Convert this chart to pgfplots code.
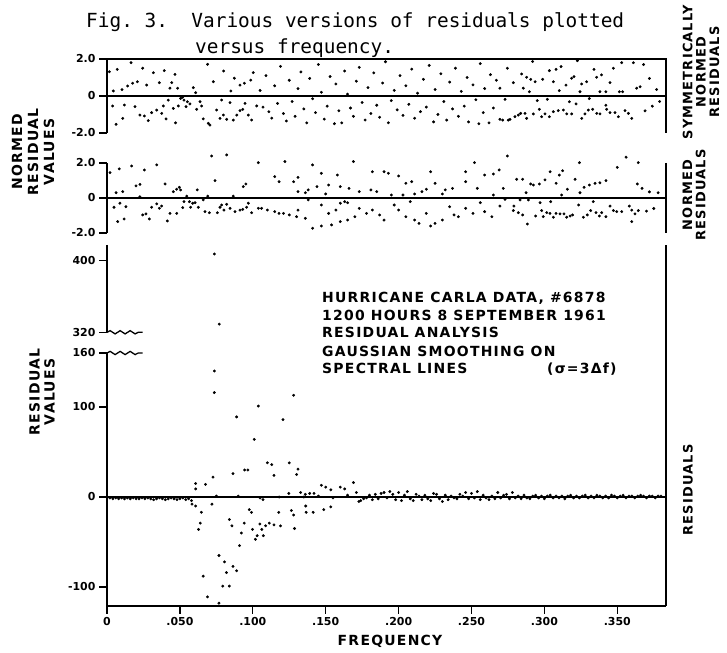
\documentclass[border=0pt]{standalone}
\usepackage{fontspec}
\setmainfont{DejaVu Sans}
\newfontfamily\monofont{DejaVu Sans Mono}
\newfontfamily\labfont[LetterSpace=9]{DejaVu Sans Bold}
\usepackage{pgfplots}
\pgfplotsset{compat=1.18}
\usetikzlibrary{decorations.pathmorphing}

\pgfplotstableread{
f v
0.0016 1.31
0.0039 -0.54
0.0043 0.27
0.0062 -1.53
0.0070 1.44
0.0103 0.34
0.0108 -1.21
0.0119 -0.49
0.0142 0.54
0.0165 1.80
0.0176 0.69
0.0192 -0.58
0.0208 0.77
0.0226 -1.03
0.0245 1.50
0.0256 -1.08
0.0272 0.59
0.0283 -1.33
0.0306 -0.90
0.0318 1.26
0.0341 -0.76
0.0359 0.72
0.0375 -0.94
0.0386 -0.54
0.0393 1.37
0.0405 -1.24
0.0420 -0.22
0.0432 0.42
0.0444 0.72
0.0455 -0.67
0.0466 1.17
0.0470 -1.45
0.0484 0.42
0.0489 -0.54
0.0505 -0.13
0.0519 -0.07
0.0528 -0.22
0.0542 -0.58
0.0551 -0.31
0.0569 -0.43
0.0592 0.45
0.0608 0.18
0.0615 -0.72
0.0638 -0.31
0.0649 -0.54
0.0660 -1.24
0.0690 1.71
0.0695 -1.48
0.0706 -1.57
0.0729 0.77
0.0752 -0.76
0.0775 -1.21
0.0786 -0.22
0.0798 -1.03
0.0800 1.35
0.0821 -1.26
0.0844 -0.36
0.0850 0.27
0.0866 -1.30
0.0873 0.96
0.0890 -1.03
0.0912 -0.79
0.0912 0.59
0.0931 -0.72
0.0942 0.69
0.0947 -0.40
0.0969 -1.03
0.0986 0.86
0.0992 -1.30
0.1003 1.26
0.1027 -0.54
0.1050 0.30
0.1070 -0.60
0.1090 1.10
0.1110 -0.85
0.1130 -1.20
0.1150 0.55
0.1170 -0.40
0.1190 1.60
0.1210 -0.95
0.1230 -1.35
0.1250 0.85
0.1270 -0.30
0.1290 -1.10
0.1310 0.40
0.1330 1.30
0.1350 -0.70
0.1370 -1.45
0.1390 0.95
0.1410 -0.15
0.1430 -0.90
0.1450 1.70
0.1470 0.20
0.1490 -1.25
0.1510 -0.55
0.1530 1.05
0.1560 -1.50
0.1570 0.65
0.1590 -0.80
0.1610 -1.45
0.1630 1.35
0.1650 0.10
0.1670 -0.65
0.1690 -1.10
0.1710 0.80
0.1730 1.55
0.1750 -0.35
0.1770 -1.30
0.1790 0.45
0.1810 -0.95
0.1830 1.25
0.1850 -0.50
0.1870 -1.15
0.1890 0.70
0.1910 1.85
0.1930 -1.45
0.1950 -0.25
0.1970 0.30
0.1990 -0.75
0.2010 1.10
0.2030 -1.05
0.2050 0.55
0.2070 -0.45
0.2090 1.45
0.2110 -1.20
0.2130 0.15
0.2150 -0.85
0.2170 0.90
0.2190 -0.60
0.2210 1.65
0.2240 -1.40
0.2250 0.35
0.2270 -1.00
0.2290 1.20
0.2310 -0.30
0.2330 -1.30
0.2350 0.75
0.2370 -0.70
0.2390 1.50
0.2410 -1.10
0.2430 0.25
0.2450 -0.55
0.2470 1.00
0.2480 -1.40
0.2510 0.60
0.2530 -0.20
0.2550 -1.50
0.2560 1.75
0.2580 -0.90
0.2590 0.40
0.2620 -1.45
0.2630 1.15
0.2650 -0.65
0.2670 0.85
0.2695 0.42
0.2695 -1.26
0.2714 -1.30
0.2730 -0.18
0.2746 1.50
0.2752 -1.30
0.2764 -1.26
0.2787 0.72
0.2798 -1.12
0.2821 -1.03
0.2837 -0.94
0.2844 1.19
0.2855 0.42
0.2867 -0.94
0.2878 1.01
0.2878 -1.21
0.2897 0.23
0.2906 0.90
0.2919 1.86
0.2924 -0.97
0.2936 0.77
0.2951 -0.25
0.2965 -0.72
0.2981 -1.12
0.2988 0.90
0.3004 -0.97
0.3020 -0.18
0.3034 1.37
0.3034 -1.12
0.3061 0.77
0.3061 -0.85
0.3080 1.44
0.3095 -0.79
0.3102 0.29
0.3114 1.59
0.3130 -0.76
0.3148 0.59
0.3153 -0.97
0.3171 -0.31
0.3187 0.96
0.3187 -0.97
0.3203 1.05
0.3217 -0.43
0.3226 1.91
0.3244 0.23
0.3255 0.65
0.3256 -1.21
0.3278 -0.97
0.3290 0.77
0.3301 -0.76
0.3308 -0.14
0.3331 -0.72
0.3340 1.44
0.3358 1.01
0.3359 -0.94
0.3381 0.23
0.3381 -0.97
0.3392 1.14
0.3422 0.23
0.3422 -0.50
0.3427 -0.72
0.3450 0.72
0.3450 -0.90
0.3473 1.50
0.3484 -0.90
0.3507 -1.12
0.3514 0.23
0.3530 1.80
0.3536 0.23
0.3553 -0.79
0.3576 -0.94
0.3599 -1.21
0.3610 1.80
0.3633 0.42
0.3656 0.50
0.3680 1.70
0.3690 -0.80
0.3720 0.95
0.3740 -0.55
0.3770 0.35
0.3790 -0.30
}\toptable

\pgfplotstableread{
f v
0.0021 1.45
0.0048 -0.53
0.0062 0.30
0.0073 -1.35
0.0084 1.66
0.0089 -0.30
0.0108 0.36
0.0117 -1.20
0.0130 -0.50
0.0169 1.83
0.0199 0.69
0.0226 0.78
0.0226 0.07
0.0245 -0.97
0.0256 1.60
0.0267 -0.91
0.0290 -1.20
0.0306 -0.53
0.0341 1.89
0.0341 -0.34
0.0359 -0.59
0.0375 -0.46
0.0398 0.80
0.0414 -1.31
0.0432 -0.88
0.0455 0.36
0.0478 0.50
0.0478 -0.88
0.0496 0.61
0.0505 0.46
0.0519 -0.55
0.0528 -0.21
0.0547 0.11
0.0565 -0.21
0.0574 -0.53
0.0588 -0.30
0.0604 -0.27
0.0619 0.46
0.0626 -0.53
0.0660 -0.11
0.0672 -0.78
0.0691 0.11
0.0702 -0.84
0.0718 2.40
0.0741 0.99
0.0757 -0.84
0.0775 -0.53
0.0786 -0.40
0.0802 -0.69
0.0821 2.46
0.0821 -0.36
0.0844 -0.59
0.0866 0.11
0.0878 -0.78
0.0912 -0.69
0.0931 -0.65
0.0935 0.65
0.0953 0.80
0.0958 -0.53
0.0969 -0.30
0.0992 -0.84
0.1038 2.02
0.1038 -0.59
0.1060 -0.59
0.1100 -0.69
0.1150 1.22
0.1150 -0.78
0.1180 0.93
0.1180 -0.88
0.1210 -0.88
0.1220 2.08
0.1250 -0.97
0.1280 0.93
0.1300 -1.07
0.1310 1.18
0.1310 0.36
0.1310 -0.69
0.1360 0.30
0.1360 -1.16
0.1380 0.46
0.1380 -0.11
0.1410 1.89
0.1410 -1.73
0.1440 0.65
0.1470 1.41
0.1470 -0.40
0.1470 -1.60
0.1500 0.23
0.1520 0.74
0.1520 -0.88
0.1540 -1.54
0.1570 -0.69
0.1580 1.31
0.1600 0.65
0.1600 -0.30
0.1600 -1.35
0.1630 -0.21
0.1650 -0.27
0.1650 -1.26
0.1660 0.55
0.1690 2.08
0.1700 -1.07
0.1730 0.36
0.1730 -0.59
0.1780 -0.88
0.1810 0.46
0.1820 1.50
0.1820 -0.69
0.1850 0.36
0.1870 -0.97
0.1900 1.50
0.1900 -1.26
0.1930 1.41
0.1950 0.17
0.1970 -0.40
0.2000 1.26
0.2000 -0.69
0.2030 0.17
0.2050 0.84
0.2050 -1.07
0.2080 -0.21
0.2090 0.93
0.2110 0.23
0.2110 -1.26
0.2140 -1.45
0.2160 0.36
0.2190 0.50
0.2190 -0.88
0.2220 1.50
0.2220 -1.60
0.2250 0.84
0.2250 -1.45
0.2300 0.23
0.2300 -1.26
0.2320 0.46
0.2350 -0.50
0.2370 0.55
0.2380 -0.97
0.2410 -1.07
0.2460 1.50
0.2460 0.93
0.2460 -0.59
0.2510 -0.88
0.2520 2.02
0.2540 0.55
0.2560 -0.27
0.2590 1.31
0.2590 -0.78
0.2640 -1.07
0.2650 1.37
0.2650 0.17
0.2690 1.60
0.2695 -0.46
0.2718 0.55
0.2730 -0.08
0.2746 2.40
0.2787 -0.72
0.2791 -0.46
0.2810 1.07
0.2821 -0.84
0.2833 -0.11
0.2851 1.07
0.2851 -0.97
0.2874 0.30
0.2883 -1.49
0.2890 -0.11
0.2906 0.80
0.2924 0.74
0.2940 -1.03
0.2965 0.80
0.2970 -0.27
0.2981 -0.72
0.2992 -1.07
0.3004 1.03
0.3016 -0.84
0.3038 -0.88
0.3039 1.50
0.3043 -0.21
0.3061 -1.10
0.3080 0.84
0.3080 -0.88
0.3102 1.31
0.3107 -0.91
0.3118 0.17
0.3125 1.56
0.3134 -0.91
0.3153 -1.10
0.3157 0.50
0.3176 -1.03
0.3193 -0.97
0.3210 1.07
0.3235 -0.40
0.3240 2.02
0.3244 0.30
0.3267 -1.10
0.3272 0.61
0.3294 -0.97
0.3308 0.74
0.3317 -0.72
0.3335 -0.21
0.3347 0.84
0.3354 -0.84
0.3377 -1.03
0.3381 0.87
0.3393 -0.84
0.3422 0.99
0.3422 -1.07
0.3450 -0.46
0.3473 -0.72
0.3496 -0.78
0.3500 1.75
0.3530 -0.78
0.3560 2.33
0.3582 -0.46
0.3599 -0.69
0.3599 -1.35
0.3621 -0.91
0.3637 0.80
0.3644 2.02
0.3644 -0.72
0.3670 0.55
0.3700 -0.75
0.3720 0.35
0.3750 -0.60
0.3780 0.30
}\midtable

\pgfplotstableread{
f v
0.002 -1
0.004 -2
0.006 -1
0.008 -2
0.010 -1
0.012 -2
0.014 -1
0.016 -2
0.018 -1
0.020 -2
0.022 -2
0.024 -1
0.026 -2
0.028 -1
0.030 -2
0.032 -3
0.034 -2
0.036 -1
0.038 -2
0.040 -3
0.042 -2
0.044 -1
0.046 -2
0.048 -3
0.050 -2
0.052 -1
0.054 -3
0.056 -2
0.058 -4
0.0583 -8
0.0608 -10
0.0608 9
0.0608 15
0.0628 -36
0.0640 -29
0.0647 -17
0.0660 -88
0.0676 14
0.0689 -111
0.0720 -8
0.0727 22
0.0736 140
0.0736 116
0.0750 1
0.0768 -65
0.0768 -118
0.0794 -99
0.0806 -72
0.0819 -84
0.0839 -99
0.0839 -25
0.0857 -32
0.0864 26
0.0864 -77
0.0889 89
0.0889 -82
0.0900 1
0.0909 -54
0.0922 -40
0.0941 -29
0.0944 30
0.0966 30
0.0976 -14
0.0991 -17
0.0998 -36
0.1010 64
0.1018 -47
0.1030 -43
0.1038 101
0.1049 -30
0.1050 -1
0.1062 -36
0.1070 -3
0.1072 -43
0.1088 -32
0.1100 38
0.1113 -29
0.1130 36
0.1145 24
0.1145 -31
0.1178 -17
0.1180 0
0.1190 -32
0.1207 86
0.1247 4
0.1250 38
0.1264 -15
0.1280 113
0.1280 -20
0.1286 -35
0.1300 25
0.1310 31
0.1328 5
0.1350 0
0.1360 3
0.1363 -10
0.1366 -17
0.1390 4
0.1414 -17
0.1420 4
0.1450 1
0.1470 13
0.1487 -14
0.1500 11
0.1535 8
0.1535 -11
0.1550 -1
0.1600 11
0.1630 9
0.1650 2
0.1690 16
0.1710 5
0.1727 -5
0.1740 -4
0.1760 -2
0.1780 -1
0.1800 2
0.1820 -3
0.1840 3
0.1860 -2
0.1880 4
0.1900 5
0.1920 -1
0.1940 6
0.1960 3
0.1980 -3
0.2000 5
0.2020 -4
0.2040 2
0.2060 6
0.2080 -2
0.2100 -4
0.2120 3
0.2140 1
0.2160 -3
0.2180 2
0.2200 -2
0.2220 -4
0.2240 4
0.2260 3
0.2280 -2
0.2300 -5
0.2320 2
0.2340 -3
0.2360 1
0.2380 -1
0.2400 -2
0.2420 3
0.2440 1
0.2460 5
0.2480 -2
0.2500 4
0.2520 -1
0.2540 6
0.2560 -3
0.2580 2
0.2600 -1
0.2620 -3
0.2640 1
0.2660 -2
0.2680 5
0.2700 -1
0.2720 2
0.2740 3
0.2760 -2
0.2780 5
0.2800 -1
0.2820 1
0.2840 -2
0.2860 2
0.2880 -1
0.2900 -2
0.2920 1
0.2940 2
0.2960 -1
0.2980 1
0.3000 -2
0.3020 1
0.3040 2
0.3060 -1
0.3080 1
0.3100 -1
0.3120 1
0.3140 -2
0.3160 1
0.3180 2
0.3200 -1
0.3220 1
0.3240 -1
0.3260 1
0.3280 2
0.3300 -1
0.3320 1
0.3340 -1
0.3360 2
0.3380 1
0.3400 -1
0.3420 1
0.3440 -1
0.3460 2
0.3480 1
0.3500 -1
0.3520 1
0.3540 2
0.3560 -1
0.3580 1
0.3600 1
0.3620 -1
0.3640 1
0.3660 2
0.3680 1
0.3700 -1
0.3720 1
0.3740 1
0.3760 -1
0.3780 1
0.3800 1
}\bottable

% points above the axis break, plotted at (value - 137)
\pgfplotstableread{
f v
0.0736 270
0.0770 192
}\breaktable

\def\xmx{0.3834}
\pgfplotsset{
  panel/.style={
    scale only axis, width=559bp, xmin=0, xmax=\xmx, clip=false,
    tick align=outside, major tick length=8bp,
    tick style={line width=1.2bp, black},
    axis line style={line width=1.6bp},
    /pgf/number format/assume math mode=true,
    ticklabel style={font=\bfseries\fontsize{11}{11}\selectfont},
  },
  dots/.style={only marks, mark=*, mark size=1.25bp, black},
}

\begin{document}
\begin{tikzpicture}[x=1bp,y=1bp]
\useasboundingbox (0,0) rectangle (727,653);

% ---------- top panel
\begin{axis}[panel, at={(107bp,520bp)}, anchor=south west, height=74bp,
  ymin=-2, ymax=2, axis x line=none, axis y line*=left, ytick pos=left,
  xtick=\empty, ytick={-2,0,2}, yticklabels={-2.0,0,2.0}]
\draw[line width=1.6bp] (axis cs:0,2) -- (axis cs:\xmx,2) -- (axis cs:\xmx,-2);
\draw[line width=2bp] (axis cs:0,0) -- (axis cs:\xmx,0);
\addplot[dots] table[x=f,y=v] {\toptable};
\end{axis}

% ---------- middle panel
\begin{axis}[panel, at={(107bp,420bp)}, anchor=south west, height=70bp,
  ymin=-2, ymax=2, axis x line=none, axis y line*=left, ytick pos=left,
  xtick=\empty, ytick={-2,0,2}, yticklabels={-2.0,0,2.0}]
\draw[line width=1.6bp] (axis cs:\xmx,2) -- (axis cs:\xmx,-2);
\draw[line width=2bp] (axis cs:0,0) -- (axis cs:\xmx,0);
\addplot[dots] table[x=f,y=v] {\midtable};
\end{axis}

% ---------- bottom panel
\begin{axis}[panel, at={(107bp,47bp)}, anchor=south west, height=361bp,
  ymin=-121.1, ymax=280, axis x line*=bottom, axis y line*=left,
  xtick pos=bottom, ytick pos=left,
  y axis line style={draw=none},
  xtick={0,0.05,0.1,0.15,0.2,0.25,0.3,0.35},
  xticklabels={0,.050,.100,.150,.200,.250,.300,.350},
  x tick style={line width=1.2bp}, xtick align=outside,
  ytick={-100,0,100,160,183,263},
  yticklabels={-100,0,100,160,320,400}]
\draw[line width=1.6bp] (axis cs:0,280) -- (axis cs:0,183);
\draw[line width=1.6bp] (axis cs:0,160) -- (axis cs:0,-121.1);
\draw[line width=1.6bp] (axis cs:\xmx,-121.1) -- (axis cs:\xmx,280);
\draw[line width=1.3bp, decorate, decoration={snake, amplitude=1.6bp, segment length=10bp}]
   (axis cs:0,183) -- (axis cs:0.0245,183);
\draw[line width=1.3bp, decorate, decoration={snake, amplitude=1.6bp, segment length=10bp}]
   (axis cs:0,160) -- (axis cs:0.0245,160);
\draw[line width=2bp] (axis cs:0,0) -- (axis cs:\xmx,0);
\addplot[dots] table[x=f,y=v] {\bottable};
\addplot[dots] table[x=f,y=v] {\breaktable};
\end{axis}

% ---------- texts
\node[anchor=base west, inner sep=0, font=\monofont\fontsize{19.5}{20}\selectfont]
  at (86,625) {Fig.\ 3.\ \ Various versions of residuals plotted};
\node[anchor=base west, inner sep=0, font=\monofont\fontsize{19.5}{20}\selectfont]
  at (195,599) {versus frequency.};

\node[rotate=90, align=center, font=\labfont\fontsize{14}{16}\selectfont]
  at (33,501) {NORMED\\RESIDUAL\\VALUES};
\node[rotate=90, align=center, font=\labfont\fontsize{14}{15}\selectfont]
  at (42,261) {RESIDUAL\\VALUES};

\node[rotate=90, align=center, font=\labfont\fontsize{13}{13.5}\selectfont]
  at (701,581) {SYMMETRICALLY\\NORMED\\RESIDUALS};
\node[rotate=90, align=center, font=\labfont\fontsize{13}{13.5}\selectfont]
  at (694,458) {NORMED\\RESIDUALS};
\node[rotate=90, align=center, font=\labfont\fontsize{13}{13.5}\selectfont]
  at (688,163) {RESIDUALS};

\begin{scope}[every node/.style={anchor=base west, inner sep=0, font=\labfont\fontsize{14}{14}\selectfont}]
\node at (322,350) {HURRICANE CARLA DATA, \#6878};
\node at (322,332) {1200 HOURS 8 SEPTEMBER 1961};
\node at (322,315) {RESIDUAL ANALYSIS};
\node at (322,296) {GAUSSIAN SMOOTHING ON};
\node at (322,279) {SPECTRAL LINES};
\node at (547,279) {(σ=3Δf)};
\end{scope}

\node[anchor=base, inner sep=0, font=\labfont\fontsize{14}{14}\selectfont] at (390,7) {FREQUENCY};
\end{tikzpicture}
\end{document}
